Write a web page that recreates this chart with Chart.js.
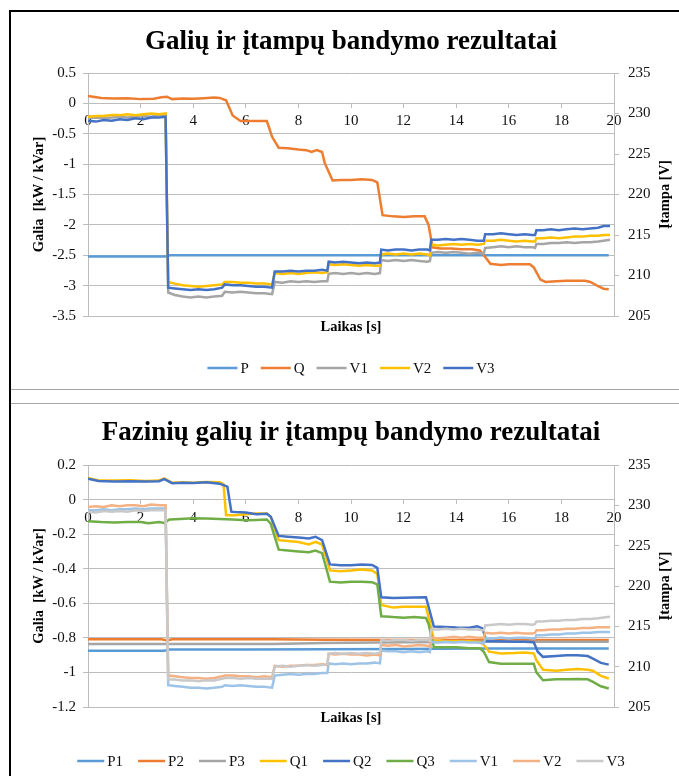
<!DOCTYPE html>
<html lang="lt">
<head>
<meta charset="utf-8">
<title>Galių ir įtampų bandymo rezultatai</title>
<script src="https://cdn.jsdelivr.net/npm/chart.js@4.4.1/dist/chart.umd.min.js"></script>
<style>
  html, body { margin: 0; padding: 0; background: #fff; }
  #page { position: relative; width: 679px; height: 776px; overflow: hidden; background: #fff; }
  .frame-top { position: absolute; left: 10px; top: 10px; width: 669px; height: 2px; background: #000; }
  .frame-left { position: absolute; left: 9px; top: 10px; width: 2px; height: 766px; background: #000; }
  .sep { position: absolute; left: 11px; width: 668px; height: 1px; background: #a6a6a6; }
  canvas { position: absolute; }
</style>
</head>
<body>
<div id="page">
  <div class="frame-top"></div>
  <div class="frame-left"></div>
  <div class="sep" style="top:389px"></div>
  <div class="sep" style="top:403px"></div>
  <canvas id="chart-total" width="667" height="376" style="left:12px;top:13px"></canvas>
  <canvas id="chart-phase" width="667" height="372" style="left:12px;top:404px"></canvas>
</div>
<script>
// 軸の目盛り
const timeTicks = [0, 2, 4, 6, 8, 10, 12, 14, 16, 18, 20];
const powerTicksTotal = [0.5, 0, -0.5, -1, -1.5, -2, -2.5, -3, -3.5];
const powerTicksPhase = [0.2, 0, -0.2, -0.4, -0.6, -0.8, -1, -1.2];
const voltTicks = [205, 210, 215, 220, 225, 230, 235];

// 電圧の時刻 (s) - 両方のグラフで共通
const tV = [0, 0.3, 0.6, 0.9, 1.2, 1.5, 1.8, 2.1, 2.4, 2.7, 2.95,
  3.05, 3.3, 3.6, 3.9, 4.2, 4.5, 4.8, 5.1,
  5.2, 5.5, 5.8, 6.1, 6.4, 6.7, 7.0,
  7.1, 7.4, 7.7, 8.0, 8.3, 8.6, 8.9, 9.1,
  9.15, 9.4, 9.7, 10.0, 10.3, 10.6, 10.9, 11.1,
  11.15, 11.4, 11.7, 12.0, 12.3, 12.6, 12.9, 13.0,
  13.05, 13.3, 13.6, 13.9, 14.2, 14.5, 14.8, 15.05,
  15.1, 15.4, 15.7, 16.0, 16.3, 16.6, 16.9, 17.0,
  17.05, 17.3, 17.6, 17.9, 18.2, 18.5, 18.8, 19.1, 19.4, 19.6, 19.85];

// --- グラフ1: 全体のP, Q, V ---
const tP = [0, 3.0, 3.1, 19.8];
const P = [-2.52, -2.52, -2.5, -2.5];

const tQ = [0, 0.5, 1.0, 1.5, 2.0, 2.5, 2.8, 3.0, 3.2, 3.6,
  4.0, 4.4, 4.8, 5.0, 5.25, 5.5, 5.8, 6.2, 6.6, 6.8,
  7.0, 7.25, 7.6, 8.0, 8.3, 8.5, 8.7, 8.9, 9.0, 9.3,
  9.6, 10.0, 10.4, 10.8, 11.0, 11.2, 11.6, 12.0, 12.4, 12.8,
  12.95, 13.1, 13.4, 13.8, 14.2, 14.6, 14.9, 15.05, 15.3, 15.7,
  16.0, 16.4, 16.8, 16.95, 17.2, 17.4, 17.8, 18.2, 18.6, 18.9,
  19.1, 19.4, 19.6, 19.8];
const Q = [0.12, 0.09, 0.08, 0.085, 0.07, 0.075, 0.1, 0.11, 0.07, 0.08,
  0.075, 0.085, 0.095, 0.09, 0.05, -0.2, -0.29, -0.29, -0.29, -0.29,
  -0.55, -0.73, -0.74, -0.76, -0.77, -0.8, -0.77, -0.8, -0.98, -1.27,
  -1.26, -1.26, -1.25, -1.26, -1.3, -1.84, -1.86, -1.87, -1.86, -1.86,
  -2.0, -2.37, -2.39, -2.39, -2.4, -2.4, -2.42, -2.5, -2.64, -2.66,
  -2.65, -2.65, -2.65, -2.7, -2.9, -2.94, -2.93, -2.92, -2.92, -2.92,
  -2.94, -3.01, -3.05, -3.06];

const V1 = [229.4, 229.5, 229.4, 229.5, 229.6, 229.5, 229.6, 229.7, 229.6, 229.8, 229.8,
  207.9, 207.6, 207.4, 207.3, 207.4, 207.3, 207.4, 207.5,
  208.0, 207.9, 208.0, 207.9, 207.8, 207.8, 207.7,
  209.2, 209.1, 209.3, 209.2, 209.3, 209.2, 209.3, 209.3,
  210.2, 210.3, 210.2, 210.3, 210.2, 210.3, 210.2, 210.3,
  211.9, 211.8, 211.9, 211.8, 211.9, 211.8, 211.7, 211.8,
  212.8, 212.9, 212.8, 212.9, 212.8, 212.7, 212.8, 212.7,
  213.4, 213.5, 213.6, 213.5, 213.6, 213.5, 213.5, 213.4,
  213.9, 213.9, 214.0, 214.0, 214.1, 214.0, 214.1, 214.1, 214.2, 214.3, 214.4];
const V2 = [229.6, 229.7, 229.7, 229.8, 229.8, 229.9, 229.8, 229.9, 230.0, 229.9, 230.0,
  209.2, 209.0, 208.8, 208.7, 208.6, 208.7, 208.8, 208.9,
  209.2, 209.2, 209.1, 209.1, 209.0, 209.0, 208.9,
  210.3, 210.2, 210.3, 210.2, 210.3, 210.4, 210.3, 210.4,
  211.4, 211.3, 211.4, 211.3, 211.2, 211.3, 211.2, 211.2,
  212.6, 212.7, 212.6, 212.7, 212.6, 212.7, 212.6, 212.5,
  213.8, 213.7, 213.8, 213.9, 213.8, 213.9, 213.8, 213.9,
  214.3, 214.3, 214.4, 214.3, 214.2, 214.3, 214.2, 214.2,
  214.6, 214.6, 214.7, 214.6, 214.7, 214.8, 214.8, 214.9, 214.9, 215.0, 215.0];
const V3 = [229.1, 229.0, 229.2, 229.1, 229.3, 229.2, 229.4, 229.3, 229.5, 229.5, 229.6,
  208.5, 208.4, 208.3, 208.2, 208.3, 208.2, 208.3, 208.5,
  208.9, 208.8, 208.8, 208.7, 208.6, 208.6, 208.5,
  210.5, 210.5, 210.6, 210.5, 210.6, 210.6, 210.7, 210.6,
  211.7, 211.6, 211.7, 211.6, 211.5, 211.6, 211.5, 211.6,
  213.2, 213.1, 213.2, 213.2, 213.1, 213.2, 213.2, 213.1,
  214.4, 214.4, 214.5, 214.4, 214.5, 214.4, 214.3, 214.3,
  215.1, 215.1, 215.2, 215.1, 215.0, 215.1, 215.0, 215.0,
  215.6, 215.6, 215.7, 215.6, 215.7, 215.8, 215.7, 215.8, 215.9, 216.1, 216.1];

// --- グラフ2: 相ごとのP, Q, V ---
const tP1 = [0, 2.9, 3.1, 6, 9, 12, 15, 19.8];
const P1 = [-0.875, -0.875, -0.868, -0.868, -0.866, -0.864, -0.862, -0.862];
const tP2 = [0, 2.8, 3.0, 3.2, 7, 9, 13, 19.8];
const P2 = [-0.808, -0.808, -0.815, -0.808, -0.808, -0.811, -0.812, -0.813];
const tP3 = [0, 7, 9, 12, 15, 19.8];
const P3 = [-0.836, -0.836, -0.83, -0.826, -0.823, -0.822];

const tQ1 = [0, 0.4, 1, 1.6, 2.2, 2.7, 2.9, 3.2, 3.6, 4.0,
  4.5, 5.0, 5.15, 5.25, 5.6, 6.0, 6.4, 6.8, 6.95, 7.25,
  7.6, 8.0, 8.4, 8.65, 8.9, 9.2, 9.6, 10.0, 10.4, 10.8,
  11.0, 11.15, 11.6, 12.0, 12.4, 12.85, 12.95, 13.15, 13.6, 14.0,
  14.5, 14.9, 15.05, 15.25, 15.7, 16.2, 16.6, 16.95, 17.05, 17.3,
  17.8, 18.2, 18.6, 19.0, 19.2, 19.5, 19.8];
const Q1 = [0.125, 0.11, 0.11, 0.112, 0.108, 0.11, 0.122, 0.097, 0.1, 0.098,
  0.102, 0.1, 0.09, -0.09, -0.09, -0.085, -0.08, -0.08, -0.1, -0.235,
  -0.24, -0.245, -0.26, -0.245, -0.26, -0.41, -0.415, -0.41, -0.405, -0.41,
  -0.43, -0.61, -0.625, -0.62, -0.62, -0.62, -0.68, -0.81, -0.82, -0.82,
  -0.82, -0.825, -0.84, -0.88, -0.89, -0.888, -0.885, -0.89, -0.93, -0.985,
  -0.99, -0.985, -0.98, -0.985, -0.99, -1.02, -1.035];

const tQ2 = [0, 0.4, 1, 1.6, 2.2, 2.7, 2.9, 3.2, 3.6, 4.0,
  4.5, 5.0, 5.3, 5.45, 5.6, 6.0, 6.4, 6.8, 6.95, 7.25,
  7.6, 8.0, 8.4, 8.65, 8.9, 9.2, 9.6, 10.0, 10.4, 10.8,
  11.0, 11.15, 11.6, 12.0, 12.4, 12.85, 12.95, 13.15, 13.6, 14.0,
  14.5, 14.8, 15.0, 15.15, 15.6, 16.2, 16.6, 16.95, 17.1, 17.3,
  17.8, 18.2, 18.6, 19.0, 19.2, 19.5, 19.8];
const Q2 = [0.12, 0.107, 0.105, 0.106, 0.104, 0.106, 0.118, 0.095, 0.098, 0.096,
  0.1, 0.092, 0.075, -0.07, -0.072, -0.075, -0.085, -0.082, -0.1, -0.21,
  -0.215, -0.22, -0.225, -0.215, -0.235, -0.375, -0.38, -0.38, -0.375, -0.378,
  -0.395, -0.565, -0.57, -0.568, -0.566, -0.565, -0.62, -0.735, -0.737, -0.74,
  -0.742, -0.733, -0.745, -0.82, -0.82, -0.823, -0.822, -0.825, -0.88, -0.91,
  -0.905, -0.9, -0.9, -0.905, -0.92, -0.945, -0.955];

const tQ3 = [0, 0.5, 1.0, 1.5, 2.0, 2.3, 2.7, 2.9, 3.1, 3.5,
  4.0, 4.5, 5.0, 5.5, 6.0, 6.4, 6.8, 6.95, 7.25, 7.6,
  8.0, 8.4, 8.65, 8.9, 9.2, 9.6, 10.0, 10.4, 10.8, 11.0,
  11.15, 11.6, 12.0, 12.4, 12.85, 12.95, 13.15, 13.6, 14.0, 14.5,
  14.9, 15.05, 15.25, 15.7, 16.2, 16.6, 16.95, 17.05, 17.3, 17.8,
  18.2, 18.6, 19.0, 19.2, 19.5, 19.8];
const Q3 = [-0.125, -0.13, -0.132, -0.13, -0.13, -0.137, -0.13, -0.135, -0.115, -0.112,
  -0.108, -0.11, -0.112, -0.115, -0.12, -0.118, -0.115, -0.14, -0.29, -0.295,
  -0.3, -0.305, -0.295, -0.31, -0.475, -0.48, -0.475, -0.475, -0.478, -0.49,
  -0.675, -0.68, -0.683, -0.68, -0.685, -0.72, -0.855, -0.855, -0.855, -0.86,
  -0.86, -0.88, -0.94, -0.95, -0.95, -0.95, -0.95, -1.0, -1.045, -1.04,
  -1.04, -1.038, -1.04, -1.055, -1.08, -1.093];

const PV1 = [229.4, 229.4, 229.5, 229.4, 229.5, 229.5, 229.6, 229.5, 229.6, 229.6, 229.6,
  207.7, 207.6, 207.5, 207.4, 207.4, 207.3, 207.4, 207.5,
  207.7, 207.6, 207.7, 207.6, 207.5, 207.5, 207.4,
  208.9, 209.0, 209.1, 209.0, 209.1, 209.1, 209.2, 209.2,
  210.4, 210.3, 210.4, 210.3, 210.4, 210.4, 210.5, 210.4,
  212.0, 211.9, 211.9, 211.8, 211.9, 211.8, 211.9, 211.8,
  213.1, 213.0, 213.1, 213.0, 213.1, 213.0, 213.0, 212.9,
  213.5, 213.5, 213.6, 213.5, 213.6, 213.6, 213.5, 213.5,
  213.9, 213.9, 214.0, 214.0, 214.1, 214.1, 214.2, 214.2, 214.3, 214.3, 214.3];
const PV2 = [229.8, 229.9, 229.8, 230.0, 229.9, 230.0, 230.0, 229.9, 230.1, 230.0, 230.0,
  208.9, 208.8, 208.7, 208.6, 208.6, 208.5, 208.6, 208.8,
  208.9, 208.9, 208.8, 208.8, 208.7, 208.8, 208.7,
  210.1, 210.0, 210.1, 210.1, 210.2, 210.2, 210.3, 210.2,
  211.6, 211.5, 211.6, 211.5, 211.5, 211.4, 211.5, 211.4,
  212.7, 212.6, 212.7, 212.5, 212.6, 212.7, 212.6, 212.5,
  213.6, 213.5, 213.6, 213.7, 213.6, 213.7, 213.6, 213.6,
  214.2, 214.1, 214.2, 214.1, 214.2, 214.1, 214.1, 214.2,
  214.5, 214.5, 214.6, 214.6, 214.7, 214.7, 214.8, 214.8, 214.9, 214.9, 214.9];
const PV3 = [229.2, 229.1, 229.3, 229.2, 229.3, 229.2, 229.4, 229.3, 229.4, 229.4, 229.4,
  208.4, 208.4, 208.3, 208.3, 208.2, 208.3, 208.3, 208.5,
  208.6, 208.6, 208.5, 208.6, 208.5, 208.5, 208.5,
  210.0, 210.1, 210.0, 210.1, 210.2, 210.1, 210.2, 210.3,
  211.6, 211.7, 211.6, 211.7, 211.6, 211.7, 211.6, 211.7,
  213.3, 213.2, 213.3, 213.3, 213.2, 213.3, 213.3, 213.2,
  214.6, 214.6, 214.7, 214.6, 214.7, 214.6, 214.6, 214.5,
  215.1, 215.2, 215.3, 215.2, 215.3, 215.3, 215.2, 215.3,
  215.6, 215.6, 215.7, 215.7, 215.8, 215.8, 215.9, 215.9, 216.0, 216.1, 216.2];

// 共通設定
const SERIF = '"Liberation Serif", "Times New Roman", serif';
const GRID = '#bdbdbd';
Chart.defaults.font.family = SERIF;
Chart.defaults.font.size = 15;
Chart.defaults.color = '#111';

function pairs(ts, vs) {
  return ts.map((t, i) => ({ x: t, y: vs[i] }));
}

function series(label, color, ts, vs, axis, order) {
  return {
    label: label,
    data: pairs(ts, vs),
    yAxisID: axis,
    borderColor: color,
    backgroundColor: color,
    borderWidth: 2.5,
    pointRadius: 0,
    tension: 0,
    fill: false,
    order: order
  };
}

function setTicks(list) {
  return scale => { scale.ticks = list.map(v => ({ value: v })); };
}

// タイトル・軸タイトル・凡例を描くプラグイン
const decor = {
  id: 'decor',
  afterDraw(chart, args, opts) {
    const ctx = chart.ctx;
    const area = chart.chartArea;
    const midY = (area.top + area.bottom) / 2;
    ctx.save();
    ctx.fillStyle = '#000';
    ctx.textAlign = 'center';

    ctx.textBaseline = 'alphabetic';
    ctx.font = 'bold 27px ' + SERIF;
    ctx.fillText(opts.title, opts.centerX, opts.titleY);

    ctx.textBaseline = 'middle';
    ctx.font = 'bold 14.5px ' + SERIF;
    ctx.fillText('Laikas [s]', opts.centerX, opts.xTitleY);

    ctx.save();
    ctx.translate(27, midY);
    ctx.rotate(-Math.PI / 2);
    ctx.fillText('Galia  [kW / kVar]', 0, 0);
    ctx.restore();

    ctx.save();
    ctx.translate(653, midY);
    ctx.rotate(-Math.PI / 2);
    ctx.fillText('Įtampa [V]', 0, 0);
    ctx.restore();

    // 凡例
    ctx.font = '15px ' + SERIF;
    ctx.textAlign = 'left';
    const items = chart.data.datasets;
    const widths = items.map(d => opts.sample + opts.gap + ctx.measureText(d.label).width);
    const total = widths.reduce((a, b) => a + b, 0) + opts.spacing * (items.length - 1);
    let x = opts.centerX - total / 2;
    items.forEach((d, i) => {
      ctx.strokeStyle = d.borderColor;
      ctx.lineWidth = 2.5;
      ctx.beginPath();
      ctx.moveTo(x, opts.legendY);
      ctx.lineTo(x + opts.sample, opts.legendY);
      ctx.stroke();
      ctx.fillStyle = '#111';
      ctx.fillText(d.label, x + opts.sample + opts.gap, opts.legendY + 1);
      x += widths[i] + opts.spacing;
    });
    ctx.restore();
  }
};

function makeScales(powerTicks) {
  return {
    x: {
      type: 'linear',
      position: { y: 0 },
      min: 0,
      max: 20,
      afterBuildTicks: setTicks(timeTicks),
      afterFit: s => { s.height = 0; },
      grid: { drawOnChartArea: false, drawTicks: true, tickLength: 4, color: GRID },
      border: { display: true, color: GRID },
      ticks: { autoSkip: false, maxRotation: 0, padding: 5, callback: v => String(v) }
    },
    y: {
      type: 'linear',
      position: 'left',
      min: powerTicks[powerTicks.length - 1],
      max: powerTicks[0],
      afterBuildTicks: setTicks(powerTicks.slice().reverse()),
      afterFit: s => { s.width = 76; },
      grid: { color: GRID, tickLength: 5 },
      border: { display: true, color: GRID },
      ticks: { padding: 7, callback: v => String(v) }
    },
    y2: {
      type: 'linear',
      position: 'right',
      min: voltTicks[0],
      max: voltTicks[voltTicks.length - 1],
      afterBuildTicks: setTicks(voltTicks),
      afterFit: s => { s.width = 65; },
      grid: { drawOnChartArea: false, color: GRID, tickLength: 5 },
      border: { display: true, color: GRID },
      ticks: { padding: 9, callback: v => String(v) }
    }
  };
}

function baseOptions(powerTicks, padTop, padBottom, decorOpts) {
  return {
    responsive: false,
    animation: false,
    layout: { padding: { top: padTop, bottom: padBottom, left: 0, right: 0 } },
    scales: makeScales(powerTicks),
    plugins: {
      legend: { display: false },
      title: { display: false },
      tooltip: { enabled: false },
      decor: decorOpts
    }
  };
}

// グラフ1
new Chart(document.getElementById('chart-total'), {
  type: 'line',
  data: {
    datasets: [
      series('P', '#5b9bd5', tP, P, 'y', 5),
      series('Q', '#ed7d31', tQ, Q, 'y', 4),
      series('V1', '#a5a5a5', tV, V1, 'y2', 3),
      series('V2', '#ffc000', tV, V2, 'y2', 2),
      series('V3', '#4472c4', tV, V3, 'y2', 1)
    ]
  },
  options: baseOptions(powerTicksTotal, 60, 73, {
    title: 'Galių ir įtampų bandymo rezultatai',
    centerX: 339, titleY: 35.5, xTitleY: 314, legendY: 355,
    sample: 30, gap: 3, spacing: 12
  }),
  plugins: [decor]
});

// グラフ2
new Chart(document.getElementById('chart-phase'), {
  type: 'line',
  data: {
    datasets: [
      series('P1', '#5b9bd5', tP1, P1, 'y', 9),
      series('P2', '#ed7d31', tP2, P2, 'y', 8),
      series('P3', '#a5a5a5', tP3, P3, 'y', 7),
      series('Q1', '#ffc000', tQ1, Q1, 'y', 6),
      series('Q2', '#4472c4', tQ2, Q2, 'y', 5),
      series('Q3', '#70ad47', tQ3, Q3, 'y', 4),
      series('V1', '#9dc3e6', tV, PV1, 'y2', 3),
      series('V2', '#f4b183', tV, PV2, 'y2', 2),
      series('V3', '#c9c9c9', tV, PV3, 'y2', 1)
    ]
  },
  options: baseOptions(powerTicksPhase, 61, 69, {
    title: 'Fazinių galių ir įtampų bandymo rezultatai',
    centerX: 339, titleY: 36, xTitleY: 314, legendY: 357,
    sample: 27, gap: 3, spacing: 15
  }),
  plugins: [decor]
});
</script>
</body>
</html>
